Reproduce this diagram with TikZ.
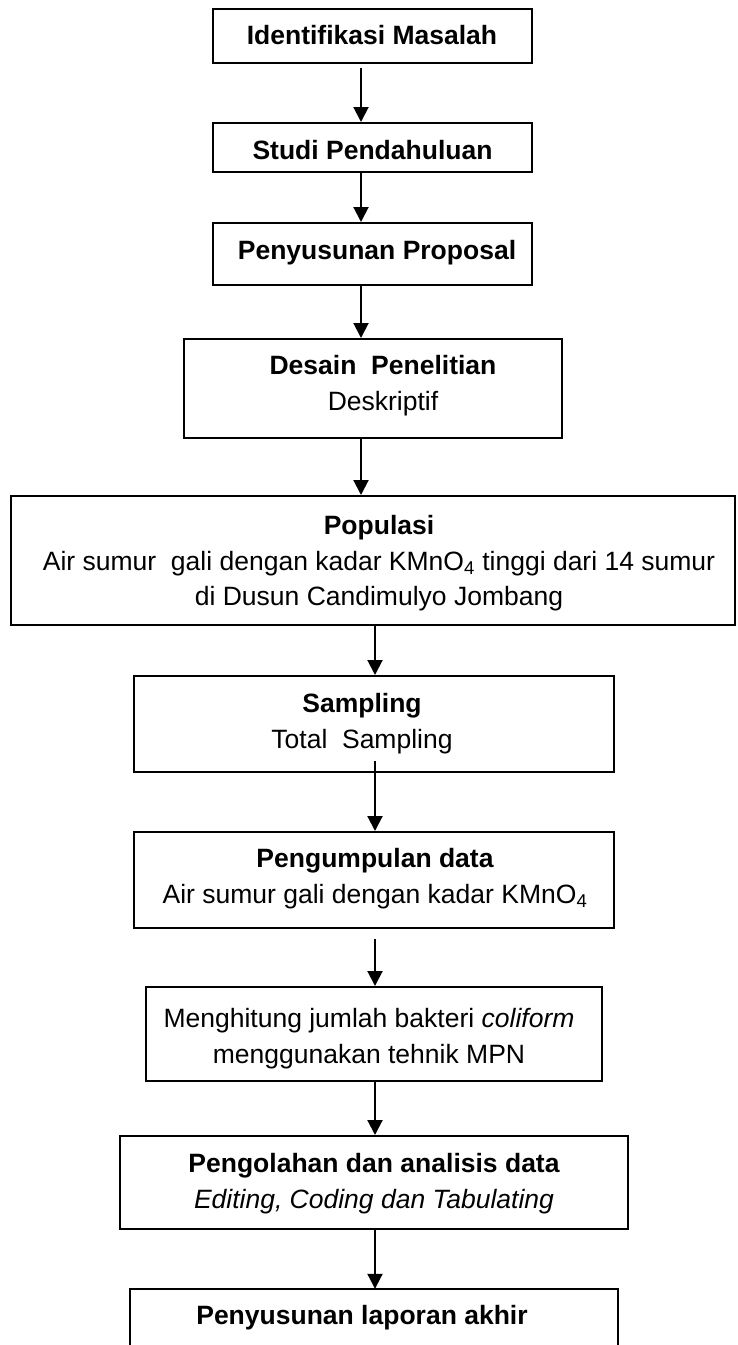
\documentclass[tikz,border=0pt]{standalone}
\usepackage{fontspec}
\setmainfont{Liberation Sans}
\usetikzlibrary{arrows.meta}
\begin{document}
\begin{tikzpicture}[x=1pt,y=-1pt,
  box/.style={draw, line width=2pt, inner sep=0pt},
  openbox/.style={inner sep=0pt},
  lbl/.style={font=\fontsize{26.5}{35.5}\selectfont, inner sep=0pt, align=center, anchor=base},
  arr/.style={line width=2pt, -{Triangle[length=15pt,width=15pt]}}]
\useasboundingbox (0,0) rectangle (738,1345);
% boxes
\node[box, minimum width=319, minimum height=54] (b1) at (372.5,36) {};
\node[box, minimum width=319, minimum height=49] (b2) at (372.5,147.5) {};
\node[box, minimum width=319, minimum height=62] (b3) at (372.5,254) {};
\node[box, minimum width=378, minimum height=99] (b4) at (373,388.5) {};
\node[box, minimum width=724, minimum height=129] (b5) at (373,560.5) {};
\node[box, minimum width=480, minimum height=96] (b6) at (374,724) {};
\node[box, minimum width=480, minimum height=96] (b7) at (374,880) {};
\node[box, minimum width=456, minimum height=94] (b8) at (374,1034) {};
\node[box, minimum width=508, minimum height=93] (b9) at (374,1182.5) {};
\node[openbox, minimum width=488, minimum height=111] (b10) at (374,1344.5) {};
\draw[line width=2pt] (b10.south west) -- (b10.north west) -- (b10.north east) -- (b10.south east);
% texts (anchor=base is the baseline of the last line)
\node[lbl] (t1) at (372,44.5) {\bfseries Identifikasi Masalah};
\node[lbl] (t2) at (372.5,159.5) {\bfseries Studi Pendahuluan};
\node[lbl] (t3) at (377,259.5) {\bfseries Penyusunan Proposal};
\node[lbl] (t4) at (383,410) {\bfseries Desain\ \ Penelitian\\Deskriptif};
\node[lbl] (t5) at (379,605.5) {\bfseries Populasi\\Air sumur\ \ gali dengan kadar KMnO\textsubscript{4} tinggi dari 14 sumur\\di Dusun Candimulyo Jombang};
\node[lbl] (t6) at (362,748) {\bfseries Sampling\\Total\ \ Sampling};
\node[lbl] (t7) at (375,903) {\bfseries Pengumpulan data\\Air sumur gali dengan kadar KMnO\textsubscript{4}};
\node[lbl] (t8) at (369,1063) {Menghitung jumlah bakteri \textit{coliform}\\menggunakan tehnik MPN};
\node[lbl] (t9) at (374,1208) {\bfseries Pengolahan dan analisis data\\\itshape Editing, Coding dan Tabulating};
\node[lbl] (t10) at (362,1324.5) {\bfseries Penyusunan laporan akhir};
% arrows
\draw[arr] ([xshift=-11.5pt,yshift=-4pt]b1.south) -- ([xshift=-11.5pt]b2.north);
\draw[arr] ([xshift=-11.5pt]b2.south) -- ([xshift=-11.5pt]b3.north);
\draw[arr] ([xshift=-11.5pt]b3.south) -- ([xshift=-12pt]b4.north);
\draw[arr] ([xshift=-12pt]b4.south) -- ([xshift=-12pt]b5.north);
\draw[arr] ([xshift=2pt]b5.south) -- ([xshift=1pt]b6.north);
\draw[arr] ([xshift=1pt,yshift=12pt]b6.south) -- ([xshift=1pt]b7.north);
\draw[arr] ([xshift=1pt,yshift=-10pt]b7.south) -- ([xshift=1pt]b8.north);
\draw[arr] ([xshift=1pt]b8.south) -- ([xshift=1pt]b9.north);
\draw[arr] ([xshift=1pt]b9.south) -- ([xshift=1pt]b10.north);
\end{tikzpicture}
\end{document}
